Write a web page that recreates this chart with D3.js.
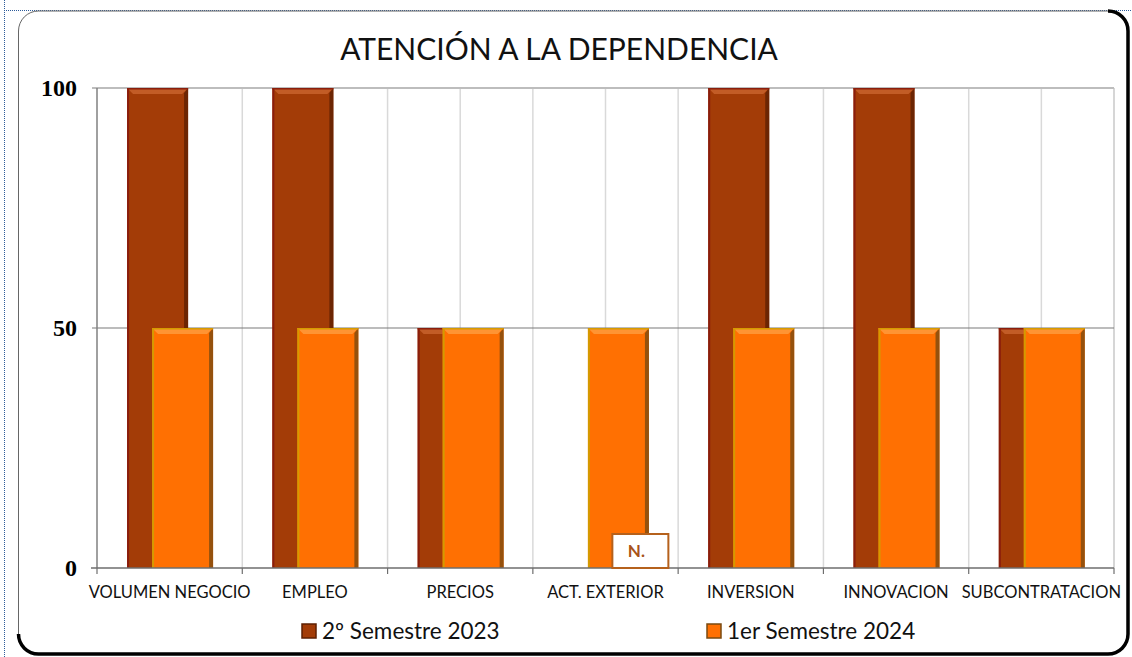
<!DOCTYPE html>
<html>
<head>
<meta charset="utf-8">
<script src="https://cdn.jsdelivr.net/npm/d3@7"></script>
<style>
  body { margin: 0; background: #fff; }
  svg { display: block; }
  .cat-label { font-family: Lato, 'Open Sans', sans-serif; font-size: 16.5px; fill: #111; }
  .y-label { font-family: 'Liberation Serif', serif; font-weight: bold; font-size: 24px; fill: #000; }
  .title { font-family: Lato, 'Open Sans', sans-serif; font-size: 30px; fill: #111; }
  .legend-label { font-family: Lato, 'Open Sans', sans-serif; font-size: 22.5px; fill: #111; }
</style>
</head>
<body>
<svg class="chart"></svg>
<script>
const categories = ['VOLUMEN NEGOCIO', 'EMPLEO', 'PRECIOS', 'ACT. EXTERIOR', 'INVERSION', 'INNOVACION', 'SUBCONTRATACION']
const seriesNames = ['2º Semestre 2023', '1er Semestre 2024']
const semestre2023 = [100, 100, 50, 0, 100, 100, 50]
const semestre2024 = [50, 50, 50, 50, 50, 50, 50]
const yTicks = [0, 50, 100]
const naLabel = 'N.'

const width = 1132
const height = 657
const plot = { left: 97, right: 1114, top: 88, bottom: 568 }

const palette = [
    { main: '#a33c07', light: '#c8622c', dark: '#5e1f02', edge: '#8a1d0c' },
    { main: '#ff7002', light: '#ff9a3c', dark: '#7a4a10', edge: '#d59a00' }
]

const svg = d3.select('.chart').attr('width', width).attr('height', height)

// dotted selection border
svg.append('line')
    .attr('x1', 4).attr('y1', 10.5).attr('x2', width).attr('y2', 10.5)
    .attr('stroke', '#2d5b9a').attr('stroke-width', 1).attr('stroke-dasharray', '1,1')
svg.append('line')
    .attr('x1', 4.5).attr('y1', 0).attr('x2', 4.5).attr('y2', height)
    .attr('stroke', '#2d5b9a').attr('stroke-width', 1).attr('stroke-dasharray', '1,1')

// chart frame
const fx0 = 18.5, fy0 = 11, fx1 = 1128, fy1 = 654, r = 20
svg.append('rect')
    .attr('x', fx0).attr('y', fy0)
    .attr('width', fx1 - fx0).attr('height', fy1 - fy0)
    .attr('rx', r).attr('ry', r)
    .attr('fill', '#fff').attr('stroke', '#666').attr('stroke-width', 1)
svg.append('path')
    .attr('d', `M${fx1 - r},${fy0} A${r},${r} 0 0 1 ${fx1},${fy0 + r} L${fx1},${fy1 - r}
        A${r},${r} 0 0 1 ${fx1 - r},${fy1} L${fx0 + r},${fy1} A${r},${r} 0 0 1 ${fx0},${fy1 - r}`)
    .attr('fill', 'none').attr('stroke', '#000').attr('stroke-width', 3.5)

const x = d3.scaleBand().domain(categories).range([plot.left, plot.right])
const y = d3.scaleLinear().domain([0, 100]).range([plot.bottom, plot.top])
const bw = x.bandwidth()

// vertical gridlines at category boundaries and centres
const gridX = d3.range(0, categories.length * 2 + 1).map(i => plot.left + i * bw / 2)
svg.append('g').selectAll('line')
    .data(gridX.slice(1, -1))
    .enter().append('line')
    .attr('x1', d => d).attr('x2', d => d)
    .attr('y1', plot.top).attr('y2', plot.bottom)
    .attr('stroke', '#d9d9d9').attr('stroke-width', 1.5)

svg.append('line')
    .attr('x1', plot.right).attr('x2', plot.right)
    .attr('y1', plot.top).attr('y2', plot.bottom)
    .attr('stroke', '#c8c8c8').attr('stroke-width', 1.5)

// horizontal gridlines
svg.append('line')
    .attr('x1', plot.left - 5).attr('x2', plot.right)
    .attr('y1', y(100)).attr('y2', y(100))
    .attr('stroke', '#bdbdbd').attr('stroke-width', 2)
svg.append('line')
    .attr('x1', plot.left - 5).attr('x2', plot.right)
    .attr('y1', y(50)).attr('y2', y(50))
    .attr('stroke', '#7a7a7a').attr('stroke-width', 1.2)

// bars
const barW = bw * 0.42
const offsets = [bw * 0.207, bw * 0.379]
const allSeries = [semestre2023, semestre2024]

const drawBar = (g, x0, v, c) => {
    const y0 = y(v), y1 = y(0)
    if (y1 - y0 < 1) return
    const b = 6
    g.append('rect')
        .attr('x', x0).attr('y', y0).attr('width', barW).attr('height', y1 - y0)
        .attr('fill', c.main)
    g.append('polygon')
        .attr('points', `${x0},${y0} ${x0 + barW},${y0} ${x0 + barW - b},${y0 + b} ${x0 + b},${y0 + b}`)
        .attr('fill', c.light).attr('opacity', 0.85)
    g.append('polygon')
        .attr('points', `${x0 + barW},${y0} ${x0 + barW},${y1} ${x0 + barW - 4},${y1} ${x0 + barW - 4},${y0 + 5}`)
        .attr('fill', c.dark).attr('opacity', 0.8)
    g.append('rect')
        .attr('x', x0).attr('y', y0).attr('width', 2).attr('height', y1 - y0)
        .attr('fill', c.edge)
    g.append('rect')
        .attr('x', x0).attr('y', y0).attr('width', barW).attr('height', 1.5)
        .attr('fill', c.edge)
}

allSeries.forEach((values, s) => {
    const g = svg.append('g').attr('class', `series-${s}`)
    values.forEach((v, i) => drawBar(g, x(categories[i]) + offsets[s], v, palette[s]))
})

// axes
svg.append('line')
    .attr('x1', plot.left).attr('x2', plot.left)
    .attr('y1', plot.top).attr('y2', plot.bottom)
    .attr('stroke', '#808080').attr('stroke-width', 1.5)
svg.append('line')
    .attr('x1', plot.left - 6).attr('x2', plot.right)
    .attr('y1', plot.bottom).attr('y2', plot.bottom)
    .attr('stroke', '#6e6e6e').attr('stroke-width', 1.5)

svg.append('g').selectAll('line')
    .data(d3.range(0, categories.length + 1).map(i => plot.left + i * bw))
    .enter().append('line')
    .attr('x1', d => d).attr('x2', d => d)
    .attr('y1', plot.bottom).attr('y2', plot.bottom + 6)
    .attr('stroke', '#6e6e6e').attr('stroke-width', 1.2)

svg.append('g').selectAll('text')
    .data(yTicks)
    .enter().append('text')
    .attr('class', 'y-label')
    .attr('x', plot.left - 20)
    .attr('y', d => y(d))
    .attr('dy', '0.33em')
    .attr('text-anchor', 'end')
    .text(d => d)

svg.append('g').selectAll('text')
    .data(categories)
    .enter().append('text')
    .attr('class', 'cat-label')
    .attr('x', d => x(d) + bw / 2)
    .attr('y', plot.bottom + 30)
    .attr('text-anchor', 'middle')
    .text(d => d)

// N. label on ACT. EXTERIOR
const naCat = categories[semestre2023.indexOf(0)]
const naX = x(naCat) + bw * 0.74
svg.append('rect')
    .attr('x', naX - 28).attr('y', y(0) - 34)
    .attr('width', 56).attr('height', 34)
    .attr('fill', '#fff').attr('stroke', '#b5611c').attr('stroke-width', 2)
svg.append('text')
    .attr('x', naX - 4).attr('y', y(0) - 17)
    .attr('dy', '0.35em')
    .attr('text-anchor', 'middle')
    .attr('font-family', 'Lato, sans-serif').attr('font-weight', 'bold').attr('font-size', 17)
    .attr('fill', '#a8531a')
    .text(naLabel)

// title
svg.append('text')
    .attr('class', 'title')
    .attr('x', 559).attr('y', 60)
    .attr('text-anchor', 'middle')
    .text('ATENCIÓN A LA DEPENDENCIA')

// legend
const legendX = [302, 707]
const legend = svg.append('g').selectAll('g')
    .data(seriesNames)
    .enter().append('g')
legend.append('rect')
    .attr('x', (d, i) => legendX[i]).attr('y', 624)
    .attr('width', 14).attr('height', 14)
    .attr('fill', (d, i) => palette[i].main)
    .attr('stroke', (d, i) => palette[i].dark).attr('stroke-width', 1.5)
legend.append('text')
    .attr('class', 'legend-label')
    .attr('x', (d, i) => legendX[i] + 20).attr('y', 639)
    .text(d => d)
</script>
</body>
</html>
